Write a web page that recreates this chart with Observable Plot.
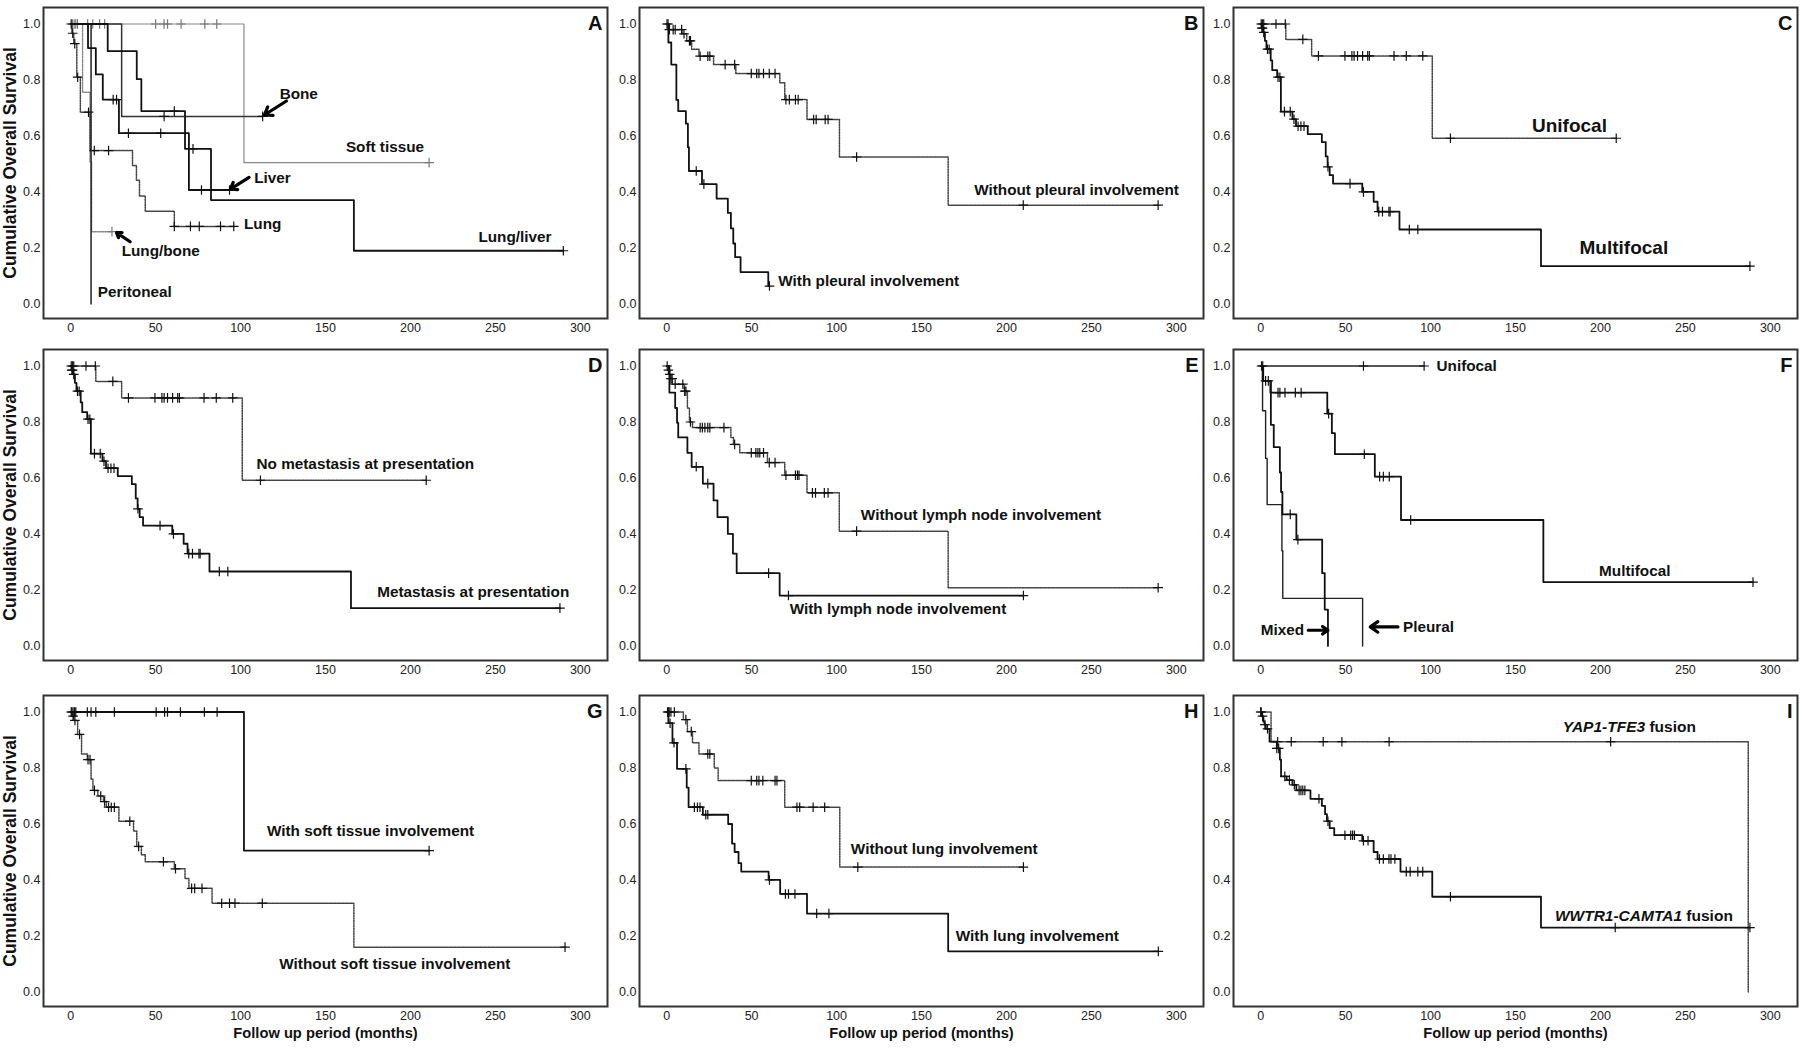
<!DOCTYPE html>
<html><head><meta charset="utf-8">
<script src="https://cdn.jsdelivr.net/npm/d3@7"></script>
<script src="https://cdn.jsdelivr.net/npm/@observablehq/plot@0.6"></script>
<style>
body{margin:0;background:#fff;}
#wrap{position:relative;width:1800px;height:1049px;overflow:hidden;background:#fff;}
#wrap svg{position:absolute;}
</style></head><body><div id="wrap"></div>
<script>
const FONT = "'Liberation Sans', Arial, Helvetica, sans-serif";
const xTicks = [0, 50, 100, 150, 200, 250, 300];
const yTicks = [0, 0.2, 0.4, 0.6, 0.8, 1.0];
const panelLetters = ["A","B","C","D","E","F","G","H","I"];
const yTitle = "Cumulative Overall Survival";
const xTitle = "Follow up period (months)";

// ---- Panel A: metastatic sites ----
const A_soft = [[0,1],[102,0.505],[211,0.505]];
const A_softCens = [1,2,3,4,10,13,17,20,50,55,57,65,79,86,211];
const A_bone = [[0,1],[30,0.67],[113,0.67]];
const A_boneCens = [55,113];
const A_liver = [[0,1],[10.2,0.914],[14.8,0.82],[18.9,0.73],[28.4,0.61],[69.6,0.407],[93.5,0.407]];
const A_liverCens = [25,27,34,53,77,93.5];
const A_lungLiver = [[0,1],[21.8,0.903],[38.9,0.803],[41.6,0.689],[67.3,0.554],[82.6,0.371],[166.7,0.19],[290,0.19]];
const A_lungLiverCens = [61,72,290];
const A_lung = [[0,1],[0.7,0.967],[1.8,0.93],[3.6,0.81],[5.7,0.685],[11.4,0.548],[36.4,0.495],[38.7,0.442],[40.5,0.386],[43.9,0.331],[61,0.277],[96,0.277]];
const A_lungCens = [0.3,1.2,2.4,4.1,10.5,13.9,22.3,61,70.5,75.7,88.2,96];
const A_lungBone = [[0,1],[7,0.756],[11.4,0.507],[12.3,0.258],[24.3,0.258]];
const A_lungBoneCens = [24.3];
const A_perit = [[0,1],[12,0]];
const A_peritCens = [];
const A_labels = [
  {t:"Bone", x:123, y:0.75}, {t:"Soft tissue", x:162, y:0.562}, {t:"Liver", x:108, y:0.45},
  {t:"Lung", x:102, y:0.286}, {t:"Lung/bone", x:30, y:0.19}, {t:"Lung/liver", x:240, y:0.24},
  {t:"Peritoneal", x:16, y:0.041}];
const A_arrows = [{x1:127,y1:0.725,x2:114,y2:0.675},{x1:105,y1:0.452,x2:94,y2:0.41},{x1:35,y1:0.222,x2:27,y2:0.255}];

// ---- Panel B: pleural involvement ----
const B_with = [[0,1],[1,0.934],[2.7,0.855],[5.7,0.729],[6.8,0.689],[11.3,0.644],[12.5,0.56],[13.1,0.475],[20.8,0.428],[29.4,0.376],[36,0.325],[37.8,0.27],[39.2,0.216],[40.3,0.167],[43.5,0.114],[59.8,0.064],[60.5,0.064]];
const B_withCens = [17.4,21.9,60.5];
const B_without = [[0,1],[1.6,0.98],[9.1,0.965],[11.8,0.94],[14.7,0.91],[19,0.885],[27.6,0.855],[40.7,0.823],[66.6,0.79],[69.5,0.73],[82.6,0.659],[101.7,0.525],[165.7,0.353],[289.4,0.353]];
const B_withoutCens = [0.2,0.8,1.6,3.8,5,8.8,10.2,13.4,14,19.7,24.2,25.4,34.4,40,49.8,53,54.3,57,60.4,63.8,70.2,72.2,75.8,77.4,86.5,88,93.3,95,111.8,209.9,289.3];
const B_labels = [{t:"Without pleural involvement", x:181, y:0.405},{t:"With pleural involvement", x:65.7, y:0.081}];

// ---- Panel C / D: unifocal vs multifocal (= no metastasis vs metastasis) ----
const C_uni = [[0,1],[14.8,0.945],[30,0.886],[101,0.592],[209.3,0.592]];
const C_uniCens = [0.3,1,1.8,9,14.5,24.8,34,49.6,53.7,55,57,60,63,64,78.5,85.7,95.4,111.7,209.3];
const C_multi = [[0,1],[0.7,0.985],[1.6,0.97],[2.5,0.94],[3.4,0.91],[5.9,0.87],[6.8,0.835],[9.7,0.81],[11.9,0.687],[18.7,0.66],[20.8,0.635],[27.7,0.607],[36,0.578],[38.3,0.527],[39.4,0.49],[40.6,0.46],[42.6,0.43],[59.8,0.40],[66.5,0.365],[68.8,0.33],[81.7,0.266],[165,0.135],[288,0.135]];
const C_multiCens = [0.7,1.1,1.8,4,5,10.2,11.3,14,17.4,19.6,22,23.7,25.5,39.6,52.6,60.5,69.5,71.7,75.5,76.2,87.5,92.5,288];
const C_labels = [{t:"Unifocal", x:159.7, y:0.635},{t:"Multifocal", x:187.7, y:0.2}];
const D_labels = [{t:"No metastasis at presentation", x:109.4, y:0.651},{t:"Metastasis at presentation", x:180.4, y:0.192}];

// ---- Panel E: lymph node involvement ----
const E_without = [[0,1],[0.9,0.985],[1.6,0.97],[2.5,0.955],[3.4,0.935],[10.4,0.91],[12.2,0.85],[13.4,0.80],[15.2,0.78],[37.8,0.745],[39.3,0.72],[43,0.69],[59.3,0.655],[69.5,0.61],[82.6,0.547],[101.6,0.41],[165.7,0.208],[289,0.208]];
const E_withoutCens = [0.3,1,1.8,2.5,3.2,5,9.5,10.6,11.3,14,19.7,21,22.5,24.2,25.4,33.7,40,49.8,52.5,53.7,54.8,57,60.4,63.8,70.2,75.8,77,77.9,85.8,87.6,92.8,95,111.8,289.3];
const E_with = [[0,1],[1.6,0.905],[5,0.85],[6.1,0.797],[6.8,0.745],[12.2,0.69],[14.7,0.64],[21.3,0.58],[27.6,0.52],[29.9,0.46],[36,0.40],[39,0.33],[41.2,0.26],[66.5,0.18],[210,0.18]];
const E_withCens = [17.4,24.2,60,71.7,210];
const E_labels = [{t:"Without lymph node involvement", x:114.3, y:0.467},{t:"With lymph node involvement", x:72.4, y:0.13}];

// ---- Panel F: pattern of disease ----
const F_uni = [[0,1],[96.2,1]];
const F_uniCens = [0.5,1.2,60.5,96.2];
const F_multi = [[0,1],[1.2,0.947],[5.7,0.905],[39.2,0.83],[41.9,0.76],[43.7,0.685],[67.2,0.605],[82.6,0.45],[166.4,0.228],[289.8,0.228]];
const F_multiCens = [2.9,4.5,10.2,11.3,14.3,20.4,23.8,40,61,70,72.2,75.7,88.3,289.8];
const F_pleural = [[0,1],[1.1,0.84],[2.9,0.67],[3.8,0.505],[12.5,0.34],[13,0.17],[60,0]];
const F_pleuralCens = [];
const F_mixed = [[0,1],[1.5,0.947],[6,0.79],[7.7,0.71],[11.3,0.62],[12,0.55],[12.8,0.47],[21,0.38],[36.2,0.26],[37.7,0.13],[39.6,0]];
const F_mixedCens = [17.4,21.9];
const F_labels = [{t:"Unifocal", x:103.5, y:1.0},{t:"Multifocal", x:199.2, y:0.268},{t:"Mixed", x:0, y:0.056},{t:"Pleural", x:83.8, y:0.068}];
const F_arrows = [{x1:28,y1:0.056,x2:39.6,y2:0.056},{x1:80.8,y1:0.068,x2:64.5,y2:0.068}];

// ---- Panel G: soft tissue involvement ----
const G_with = [[0,1],[102,0.505],[211,0.505]];
const G_withCens = [0.7,1.4,2.3,3,9.8,12,14.8,25.7,50.3,55.3,57,64.6,78.7,86.2,211];
const G_without = [[0,1],[0.7,0.985],[1.8,0.97],[4.1,0.92],[6.4,0.85],[9.8,0.83],[12,0.76],[13.1,0.72],[16,0.70],[19.3,0.68],[21,0.66],[28.4,0.61],[37,0.575],[38.9,0.52],[41.6,0.49],[43.9,0.465],[61,0.44],[67.3,0.405],[69.6,0.37],[83.2,0.317],[166.7,0.16],[291,0.16]];
const G_withoutCens = [0.3,1.4,2.5,5.2,10.2,11.4,14,17.7,20,22.3,23.9,25.7,34.8,40,54.6,61.7,71.2,73,77.3,88.9,93.5,96.7,112.8,291];
const G_labels = [{t:"With soft tissue involvement", x:115.5, y:0.573},{t:"Without soft tissue involvement", x:122.8, y:0.10}];

// ---- Panel H: lung involvement ----
const H_without = [[0,1],[9.8,0.973],[12.2,0.93],[15.2,0.89],[19,0.85],[28,0.80],[30.3,0.755],[69.5,0.66],[101.9,0.446],[210,0.446]];
const H_withoutCens = [0.5,1,1.5,2.5,4.5,11.3,14.5,24.2,25.4,49.8,53,54.3,56.6,63.8,64.9,76.7,78.3,86.2,93,112.5,210];
const H_with = [[0,1],[1,0.96],[3.4,0.89],[6.1,0.797],[11.8,0.73],[12.9,0.66],[21.3,0.633],[36.2,0.60],[38.5,0.53],[40,0.50],[42.3,0.46],[43.9,0.43],[60,0.40],[66.8,0.35],[82.6,0.28],[165.7,0.145],[289.4,0.145]];
const H_withCens = [2,4.3,11.3,16.3,18.1,19.6,23,24.2,60.5,69.9,71.7,75.5,88.3,95.5,289.4];
const H_labels = [{t:"Without lung involvement", x:108.4, y:0.51},{t:"With lung involvement", x:170.2, y:0.2}];

// ---- Panel I: fusion type ----
const I_yap = [[0,1],[6.1,0.894],[287,0]];
const I_yapCens = [0.3,10,18,36.8,47.8,75.6,206];
const I_wwtr = [[0,1],[0.7,0.985],[1.6,0.965],[2.3,0.955],[3,0.94],[5.2,0.894],[9.5,0.87],[11.3,0.83],[12,0.77],[15.3,0.757],[18.7,0.74],[21,0.72],[29.3,0.69],[36,0.665],[37.9,0.635],[39,0.61],[40.6,0.585],[43.3,0.56],[59.8,0.54],[66.5,0.50],[68.8,0.475],[82.3,0.43],[101,0.34],[165,0.23],[288,0.23]];
const I_wwtrCens = [0,1.1,2.5,4,9.5,10.6,14.2,16.9,19.8,22.6,23.7,24.8,26,34.3,39.6,49.6,53,54.1,55.2,60.5,63.2,69.9,72.2,75.5,76.7,79,85.7,88,92.5,95.4,111.7,208.7,288];
const I_labels = [{t:"YAP1-TFE3", rest:" fusion", x:177.8, y:0.947},{t:"WWTR1-CAMTA1", rest:" fusion", x:173.2, y:0.27}];

// ---------- layout ----------
const cols = [{left:0, width:610, ml:43}, {left:610, width:596, ml:29}, {left:1206, width:594, ml:27}];
const rows = [{top:0, height:343, mt:7}, {top:343, height:343, mt:6}, {top:686, height:363, mt:9}];
const FRAME_W = 564, FRAME_H = 311;

function survAt(steps, t) {
  let s = steps[0][1];
  for (const [x, y] of steps) if (x <= t) s = y;
  return s;
}
const SOLID = {color:"#111", width:1.8, dash:null};
const DOT = {color:"#444", width:1.5, dash:"1.5,1.1"};
function ser(steps, cens, style) { return Object.assign({steps, cens}, style); }

const panels = [
  {col:0,row:0, series:[
    ser(A_soft, A_softCens, {color:"#888", width:1.2, dash:null}),
    ser(A_bone, A_boneCens, {color:"#333", width:1.5, dash:null}),
    ser(A_lungBone, A_lungBoneCens, {color:"#888", width:1.4, dash:"1.5,1.1"}),
    ser(A_lung, A_lungCens, DOT),
    ser(A_perit, A_peritCens, {color:"#222", width:1.5, dash:null}),
    ser(A_liver, A_liverCens, SOLID),
    ser(A_lungLiver, A_lungLiverCens, SOLID)], labels:A_labels, arrows:A_arrows, size:15.3},
  {col:1,row:0, series:[ser(B_without, B_withoutCens, DOT), ser(B_with, B_withCens, SOLID)], labels:B_labels, size:15.3},
  {col:2,row:0, series:[ser(C_uni, C_uniCens, DOT), ser(C_multi, C_multiCens, SOLID)], labels:C_labels, size:19},
  {col:0,row:1, series:[ser(C_uni, C_uniCens, DOT), ser(C_multi, C_multiCens, SOLID)], labels:D_labels, size:15.3},
  {col:1,row:1, series:[ser(E_without, E_withoutCens, DOT), ser(E_with, E_withCens, SOLID)], labels:E_labels, size:15.3},
  {col:2,row:1, series:[
    ser(F_uni, F_uniCens, {color:"#222", width:1.5, dash:null}),
    ser(F_pleural, F_pleuralCens, {color:"#222", width:1.4, dash:null}),
    ser(F_mixed, F_mixedCens, SOLID),
    ser(F_multi, F_multiCens, SOLID)], labels:F_labels, arrows:F_arrows, size:15.3},
  {col:0,row:2, series:[ser(G_without, G_withoutCens, DOT), ser(G_with, G_withCens, SOLID)], labels:G_labels, size:15.3},
  {col:1,row:2, series:[ser(H_without, H_withoutCens, DOT), ser(H_with, H_withCens, SOLID)], labels:H_labels, size:15.3},
  {col:2,row:2, series:[ser(I_yap, I_yapCens, DOT), ser(I_wwtr, I_wwtrCens, SOLID)], labels:I_labels, size:15.5}
];

const wrap = document.getElementById("wrap");
panels.forEach((p, i) => {
  const c = cols[p.col], r = rows[p.row];
  const marks = [];
  for (const s of p.series) {
    marks.push(Plot.line(s.steps, {x: d => d[0], y: d => d[1], curve: "step-after",
      stroke: s.color, strokeWidth: s.width, strokeDasharray: s.dash || undefined}));
    const cd = s.cens.map(t => [t, survAt(s.steps, t)]);
    marks.push(Plot.dot(cd, {x: d => d[0], y: d => d[1], symbol: "plus", r: 3.2,
      stroke: s.color === "#888" ? "#777" : "#111", strokeWidth: 1.2}));
  }
  if (p.arrows) marks.push(Plot.arrow(p.arrows, {x1:"x1", y1:"y1", x2:"x2", y2:"y2",
    stroke:"#000", strokeWidth:3.2, headLength:9, headAngle:70}));
  marks.push(Plot.text(p.labels, {x: "x", y: "y", text: d => d.rest ? d.t + d.rest : d.t,
    textAnchor: "start", fontWeight: "bold", fontSize: p.size, fill: "#111"}));
  marks.push(Plot.frame({stroke: "#333", strokeWidth: 2}));
  marks.push(Plot.text([panelLetters[i]], {frameAnchor: "top-right", dx: -5, dy: 8,
    textAnchor: "end", lineAnchor: "top", fontWeight: "bold", fontSize: 20, fill: "#111"}));
  if (p.col === 0) marks.push(Plot.text([yTitle], {frameAnchor: "left", dx: -33, rotate: -90,
    textAnchor: "middle", lineAnchor: "middle", fontWeight: "bold", fontSize: 17.5, fill: "#111"}));
  if (p.row === 2) marks.push(Plot.text([xTitle], {frameAnchor: "bottom", dy: 27,
    textAnchor: "middle", lineAnchor: "middle", fontWeight: "bold", fontSize: 14.7, fill: "#111"}));

  const svg = Plot.plot({
    width: c.width, height: r.height,
    marginLeft: c.ml, marginRight: c.width - c.ml - FRAME_W,
    marginTop: r.mt, marginBottom: r.height - r.mt - FRAME_H,
    style: {fontFamily: FONT, fontSize: "12.5px", color: "#222", background: "transparent"},
    x: {domain: [-16, 316], ticks: xTicks, tickSize: 0, tickPadding: 5, label: null},
    y: {domain: [-0.052, 1.059], ticks: yTicks, tickFormat: ".1f", tickSize: 0, tickPadding: 3, label: null},
    marks
  });
  svg.style.left = c.left + "px";
  svg.style.top = r.top + "px";
  // italic gene names inside "... fusion" labels
  d3.select(svg).selectAll("text").each(function() {
    const el = this;
    if (el.children.length === 0 && /fusion$/.test(el.textContent)) {
      const gene = el.textContent.replace(/ fusion$/, "");
      el.textContent = "";
      d3.select(el).append("tspan").attr("font-style", "italic").text(gene);
      d3.select(el).append("tspan").text("\u00a0fusion");
    }
  });
  wrap.appendChild(svg);
});
</script></body></html>
